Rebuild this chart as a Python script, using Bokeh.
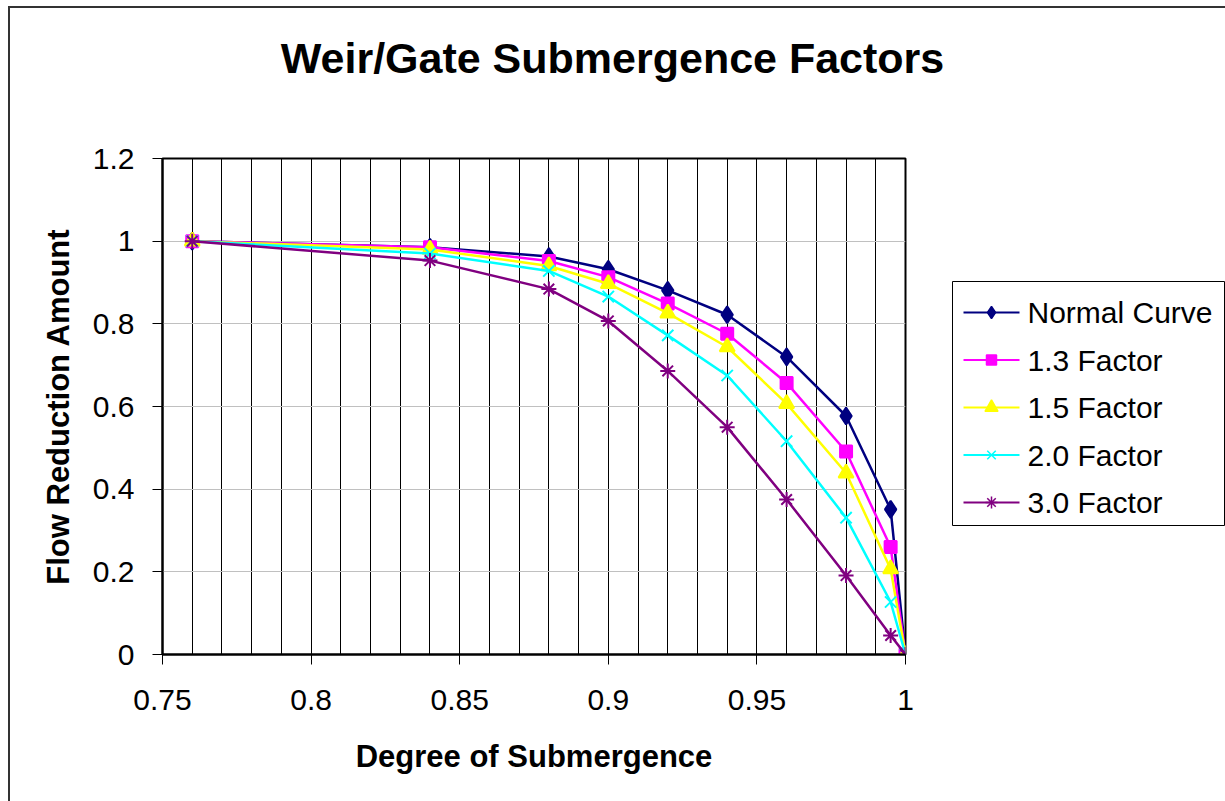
from bokeh.plotting import figure
from bokeh.layouts import column, row
from bokeh.models import Range1d, FixedTicker, Label
from bokeh.core.properties import value
from bokeh.embed import file_html
from bokeh.resources import INLINE

# Degree of submergence (x) and flow reduction amount for each curve
submergence = [0.76, 0.84, 0.88, 0.90, 0.92, 0.94, 0.96, 0.98, 0.995, 1.0]
normal_curve = [1.0, 0.985, 0.963, 0.932, 0.881, 0.822, 0.72, 0.577, 0.351, 0.0]
factor_13 = [1.0, 0.985, 0.952, 0.913, 0.849, 0.776, 0.657, 0.491, 0.26, 0.0]
factor_15 = [1.0, 0.98, 0.94, 0.897, 0.826, 0.744, 0.607, 0.439, 0.207, 0.0]
factor_20 = [1.0, 0.97, 0.928, 0.866, 0.772, 0.675, 0.516, 0.331, 0.127, 0.0]
factor_30 = [1.0, 0.953, 0.884, 0.807, 0.686, 0.55, 0.375, 0.191, 0.046, 0.0]

series_names = ["Normal Curve", "1.3 Factor", "1.5 Factor", "2.0 Factor", "3.0 Factor"]

x_ticks = [0.75, 0.8, 0.85, 0.9, 0.95, 1.0]
x_tick_labels = ["0.75", "0.8", "0.85", "0.9", "0.95", "1"]
y_ticks = [0, 0.2, 0.4, 0.6, 0.8, 1.0, 1.2]
y_tick_labels = ["0", "0.2", "0.4", "0.6", "0.8", "1", "1.2"]
x_grid_lines = [round(0.75 + 0.01 * i, 2) for i in range(26)]

FONT = "Liberation Sans"

HEAD_H = 130          # title strip height
BODY_TOP = 20         # space above the plot frame inside the chart body
FRAME_W, FRAME_H = 743, 496
BODY_BOTTOM = 147
BODY_H = BODY_TOP + FRAME_H + BODY_BOTTOM
SIDE_W = 300


def blank_panel(w, h):
    """A figure whose frame fills the whole canvas; one data unit = one pixel."""
    f = figure(frame_width=w, frame_height=h, min_border=0,
               x_range=Range1d(0, w), y_range=Range1d(0, h),
               x_axis_type=None, y_axis_type=None,
               output_backend="svg", toolbar_location=None)
    f.grid.visible = False
    f.outline_line_color = None
    f.background_fill_color = "white"
    f.border_fill_color = "white"
    return f


# ---- title strip -------------------------------------------------------
head = blank_panel(1215, HEAD_H)
head.add_layout(Label(x=602, y=HEAD_H - 49, text="Weir/Gate Submergence Factors",
                      text_font=FONT, text_font_size="43px", text_font_style="bold",
                      text_align="center", text_baseline="middle", text_color="black"))

# ---- main chart ----------------------------------------------------------
p = figure(frame_width=FRAME_W, frame_height=FRAME_H,
           min_border_left=152, min_border_right=20,
           min_border_top=BODY_TOP, min_border_bottom=BODY_BOTTOM,
           x_range=Range1d(0.75, 1.0), y_range=Range1d(0, 1.2),
           output_backend="svg", toolbar_location=None,
           background_fill_color="white", border_fill_color="white")

p.outline_line_color = "black"
p.outline_line_width = 2

# grid: fine black verticals, light grey horizontals
p.xgrid.ticker = FixedTicker(ticks=x_grid_lines)
p.xgrid.grid_line_color = "black"
p.xgrid.grid_line_width = 1
p.ygrid.ticker = FixedTicker(ticks=y_ticks)
p.ygrid.grid_line_color = "#c0c0c0"
p.ygrid.grid_line_width = 1

for ax, ticks, labels in ((p.xaxis, x_ticks, x_tick_labels), (p.yaxis, y_ticks, y_tick_labels)):
    ax.ticker = FixedTicker(ticks=ticks)
    ax.major_label_overrides = {t: l for t, l in zip(ticks, labels)}
    ax.axis_line_color = "black"
    ax.axis_line_width = 2
    ax.major_tick_line_color = "black"
    ax.major_tick_line_width = 1
    ax.major_tick_out = 10
    ax.major_tick_in = 0
    ax.minor_tick_line_color = None
    ax.major_label_text_font = FONT
    ax.major_label_text_font_size = "30px"
    ax.major_label_text_color = "black"
    ax.axis_label_text_font = FONT
    ax.axis_label_text_font_size = "31px"
    ax.axis_label_text_font_style = "bold"
    ax.axis_label_text_color = "black"

p.xaxis.major_label_standoff = 25
p.xaxis.axis_label_standoff = 26
p.yaxis.major_label_standoff = 18
p.yaxis.axis_label_standoff = 14

p.xaxis.axis_label = "Degree of Submergence"
p.yaxis.axis_label = "Flow Reduction Amount"

colors = ["#000080", "#FF00FF", "#FFFF00", "#00FFFF", "#800080"]
markers = ["diamond", "square", "triangle", "x", "asterisk"]
marker_sizes = [17, 12, 15, 16, 15]
series = [normal_curve, factor_13, factor_15, factor_20, factor_30]

for vals, color, marker, size in zip(series, colors, markers, marker_sizes):
    p.line(submergence, vals, line_color=color, line_width=2.5)
    p.scatter(submergence, vals, marker=marker, size=size,
              fill_color=color, line_color=color, line_width=2)

# ---- key panel to the right of the plot ------------------------------------
side = blank_panel(SIDE_W, BODY_H)
box_left, box_right = 27, 299
box_top = BODY_H - 123
row_pitch = 47.5
box_bottom = box_top - 2 * 31 - (len(series_names) - 1) * row_pitch + 8
side.quad(left=[box_left], right=[box_right], top=[box_top], bottom=[box_bottom],
          fill_color="white", line_color="black", line_width=1)

row_y = [box_top - 31 - i * row_pitch for i in range(len(series_names))]
sw_x0, sw_x1 = box_left + 11, box_left + 67
side.segment(x0=[sw_x0] * len(row_y), y0=row_y, x1=[sw_x1] * len(row_y), y1=row_y,
             line_color=colors, line_width=2)
side.scatter(x=[(sw_x0 + sw_x1) / 2] * len(row_y), y=row_y, marker=markers,
             size=[12, 10, 13, 12, 12], fill_color=colors, line_color=colors,
             line_width=1.5)
side.text(x=[sw_x1 + 8] * len(row_y), y=row_y, text=series_names,
          text_font=value(FONT), text_font_size="30px", text_color="black",
          text_align="left", text_baseline="middle")

layout = column(head, row(p, side))
# outer chart border (its left and top edges fall inside the page)
layout.styles = {"margin-left": "8px", "margin-top": "6px",
                 "border-left": "2px solid #333333", "border-top": "2px solid #333333"}

open("out.html", "w").write(file_html(layout, INLINE))
